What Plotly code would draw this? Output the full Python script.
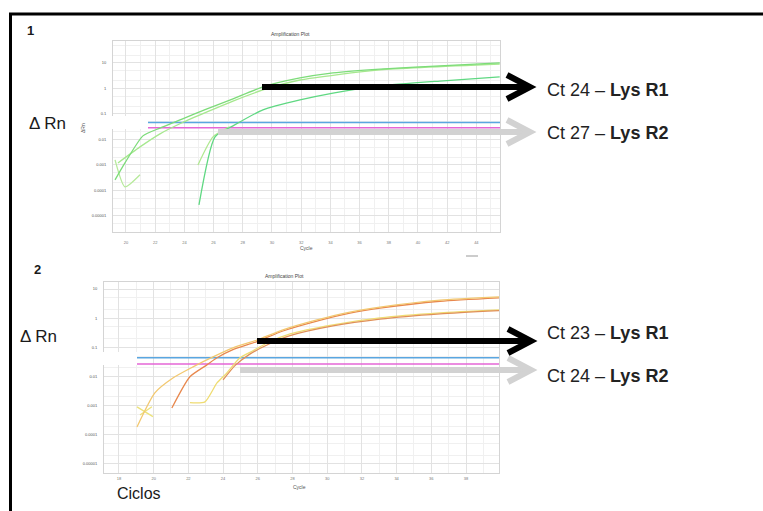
import plotly.graph_objects as go

W, H = 763, 511
FONT = "Arial, 'Liberation Sans', sans-serif"

# ---------------- data : panel 1 (green curves) ----------------
p1_cycles_tick = [20, 22, 24, 26, 28, 30, 32, 34, 36, 38, 40, 42, 44]
p1_A1_cycle = [19.25, 19.93, 21.16, 22.33, 23.84, 25.55, 27.33, 29.38, 31.92, 34.18, 37.40, 41.5, 45.6]
p1_A1_drn = [0.00026, 0.0012, 0.0138, 0.028, 0.063, 0.158, 0.39, 1.15, 2.57, 4.07, 5.75, 7.6, 10.0]
p1_A2_cycle = [19.45, 20.96, 22.33, 23.84, 25.55, 27.33, 29.38, 31.92, 37.4, 45.6]
p1_A2_drn = [0.0012, 0.0051, 0.0166, 0.045, 0.12, 0.32, 0.87, 2.14, 5.37, 9.1]
p1_B1_cycle = [25.0, 26.1, 27.33, 29.38, 31.92, 34.18, 37.4, 41.5, 45.6]
p1_B1_drn = [0.000027, 0.0126, 0.034, 0.145, 0.355, 0.66, 1.26, 1.95, 2.82]
p1_B2_cycle = [24.93, 25.96, 27.1]
p1_B2_drn = [0.001, 0.0126, 0.031]
p1_N1_cycle = [19.25, 19.93, 20.96]
p1_N1_drn = [0.00158, 0.000138, 0.00041]
p1_thr_cycle = [21.5, 45.62]
p1_thr_blue = 0.0457
p1_thr_pink = 0.0288

# ---------------- data : panel 2 (orange / yellow curves) ----------------
p2_cycles_tick = [18, 20, 22, 24, 26, 28, 30, 32, 34, 36, 38]
p2_R1a_cycle = [19.04, 20.07, 21.11, 22.27, 23.42, 24.57, 25.95, 27.45, 29.41, 31.31, 33.04, 36.5, 39.9]
p2_R1a_drn = [0.000186, 0.00275, 0.0089, 0.0214, 0.0468, 0.0955, 0.178, 0.398, 0.87, 1.62, 2.40, 4.17, 5.37]
p2_R1b_cycle = [21.05, 22.09, 23.07, 23.65, 24.57, 25.95, 27.45, 29.41, 31.31, 33.04, 36.5, 39.9]
p2_R1b_drn = [0.00083, 0.0098, 0.025, 0.0437, 0.083, 0.158, 0.363, 0.79, 1.48, 2.19, 3.8, 5.0]
p2_R2a_cycle = [22.09, 22.96, 23.65, 24.22, 24.97, 25.72, 26.53, 27.86, 30.33, 33.04, 36.5, 39.9]
p2_R2a_drn = [0.00126, 0.00135, 0.006, 0.0132, 0.0437, 0.076, 0.141, 0.288, 0.59, 1.02, 1.51, 1.91]
p2_R2b_cycle = [24.0, 24.7, 25.5, 26.53, 27.86, 30.33, 33.04, 36.5, 39.9]
p2_R2b_drn = [0.0076, 0.024, 0.056, 0.12, 0.25, 0.54, 0.93, 1.41, 1.82]
p2_X1_cycle = [19.04, 19.96]
p2_X1_drn = [0.00091, 0.00042]
p2_X2_cycle = [19.21, 19.9]
p2_X2_drn = [0.00048, 0.00091]
p2_thr_cycle = [19.04, 39.9]
p2_thr_blue = 0.0437
p2_thr_pink = 0.0269

y_tickvals = [1e-5, 1e-4, 1e-3, 1e-2, 1e-1, 1, 10]
y_ticktext = ["0.00001", "0.0001", "0.001", "0.01", "0.1", "1", "10"]
y_minor = [m * 10.0 ** e for e in range(-6, 2) for m in (2, 5)]

labels_ct = [("Ct 24 – ", "Lys R1"), ("Ct 27 – ", "Lys R2"),
             ("Ct 23 – ", "Lys R1"), ("Ct 24 – ", "Lys R2")]


def X(p):
    return p / W


def Y(p):
    return 1 - p / H


fig = go.Figure()


def line(xs, ys, color, ax, width=1.3):
    fig.add_trace(go.Scatter(x=xs, y=ys, mode="lines", xaxis=ax[0], yaxis=ax[1],
                             line=dict(color=color, width=width, shape="spline", smoothing=0.6),
                             hoverinfo="skip", showlegend=False))


a1 = ("x", "y")
line(p1_thr_cycle, [p1_thr_blue] * 2, "#5aa6e0", a1, 1.5)
line(p1_thr_cycle, [p1_thr_pink] * 2, "#e466d6", a1, 1.5)
line(p1_N1_cycle, p1_N1_drn, "#b6ea9a", a1)
line(p1_A2_cycle, p1_A2_drn, "#a6e88e", a1)
line(p1_A1_cycle, p1_A1_drn, "#7ddc7a", a1)
line(p1_B2_cycle, p1_B2_drn, "#b0e890", a1)
line(p1_B1_cycle, p1_B1_drn, "#5fd882", a1)

a2 = ("x2", "y2")
line(p2_thr_cycle, [p2_thr_blue] * 2, "#5aa6e0", a2, 1.5)
line(p2_thr_cycle, [p2_thr_pink] * 2, "#e466d6", a2, 1.5)
line(p2_X1_cycle, p2_X1_drn, "#ece27a", a2)
line(p2_X2_cycle, p2_X2_drn, "#ece27a", a2)
line(p2_R2a_cycle, p2_R2a_drn, "#efdc72", a2)
line(p2_R2b_cycle, p2_R2b_drn, "#e09058", a2)
line(p2_R1b_cycle, p2_R1b_drn, "#e8884e", a2)
line(p2_R1a_cycle, p2_R1a_drn, "#f2c870", a2)

common_x = dict(showgrid=True, gridcolor="#e2e2e2", gridwidth=1, zeroline=False,
                showline=True, mirror=True, linecolor="#d4d4d4", linewidth=1,
                tickfont=dict(size=4, color="#777", family=FONT), ticks="")
common_y = dict(type="log", showgrid=True, gridcolor="#e2e2e2", zeroline=False,
                showline=True, mirror=True, linecolor="#d4d4d4", linewidth=1,
                tickvals=y_tickvals, ticktext=y_ticktext,
                tickfont=dict(size=4, color="#555", family=FONT), ticks="",
                ticklabelstandoff=5,
                minor=dict(tickvals=y_minor, showgrid=True, gridcolor="#f0f0f0", ticks=""))

fig.update_layout(
    width=W, height=H, margin=dict(l=0, r=0, t=0, b=0),
    paper_bgcolor="white", plot_bgcolor="white", showlegend=False,
    xaxis=dict(common_x, domain=[X(113), X(500)], range=[19.11, 45.62], anchor="y",
               ticklabelstandoff=6,
               tickvals=p1_cycles_tick, ticktext=[str(c) for c in p1_cycles_tick],
               minor=dict(tickvals=[c + 1 for c in p1_cycles_tick], showgrid=True,
                          gridcolor="#f0f0f0", ticks="")),
    yaxis=dict(common_y, domain=[Y(232), Y(41)], range=[-5.63, 1.86], anchor="x"),
    xaxis2=dict(common_x, domain=[X(104), X(499)], range=[17.14, 39.9], anchor="y2",
                ticklabelstandoff=1,
                tickvals=p2_cycles_tick, ticktext=[str(c) for c in p2_cycles_tick],
                minor=dict(tickvals=[c + 1 for c in p2_cycles_tick], showgrid=True,
                           gridcolor="#f0f0f0", ticks="")),
    yaxis2=dict(common_y, domain=[Y(473), Y(282)], range=[-5.31, 1.24], anchor="x2"),
)

shapes = []
# outer frame
shapes.append(dict(type="rect", xref="paper", yref="paper", x0=X(10.5), x1=X(800),
                   y0=Y(560), y1=Y(14), line=dict(color="black", width=3), fillcolor="rgba(0,0,0,0)"))
# white label bands that break the plot
shapes.append(dict(type="rect", xref="paper", yref="paper", x0=X(100), x1=X(148),
                   y0=Y(129), y1=Y(116), line=dict(width=0), fillcolor="white", layer="above"))
shapes.append(dict(type="rect", xref="paper", yref="paper", x0=X(92), x1=X(137),
                   y0=Y(365), y1=Y(352), line=dict(width=0), fillcolor="white", layer="above"))


def arrow(x0, x1, y, color):
    shapes.append(dict(type="line", xref="paper", yref="paper", x0=X(x0), x1=X(x1 - 6),
                       y0=Y(y), y1=Y(y), line=dict(color=color, width=6)))
    path = "M %f,%f L %f,%f L %f,%f" % (X(x1 - 23), Y(y - 12), X(x1), Y(y), X(x1 - 23), Y(y + 12))
    shapes.append(dict(type="path", xref="paper", yref="paper", path=path,
                       line=dict(color=color, width=6)))


arrow(218, 530, 132, "#d2d2d2")
arrow(262, 530, 87, "black")
arrow(240, 531, 370, "#d2d2d2")
arrow(257, 531, 341, "black")
shapes.append(dict(type="line", xref="paper", yref="paper", x0=X(466), x1=X(478),
                   y0=Y(256), y1=Y(256), line=dict(color="#999", width=1)))
fig.update_layout(shapes=shapes)

ann = []


def txt(text, x, y, size, xanchor="center", color="#1a1a1a", angle=0):
    ann.append(dict(text=text, x=X(x), y=Y(y), xref="paper", yref="paper", showarrow=False,
                    xanchor=xanchor, yanchor="middle", textangle=angle,
                    font=dict(size=size, color=color, family=FONT)))


txt("<b>1</b>", 31, 30, 13)
txt("<b>2</b>", 37, 269, 13)
txt("Δ Rn", 48, 123, 17)
txt("Δ Rn", 38, 336, 17)
txt("Ciclos", 139, 493, 16)
txt("Amplification Plot", 290, 34, 5, color="#444")
txt("Amplification Plot", 284, 276, 5, color="#444")
txt("Cycle", 306, 248, 5, color="#555")
txt("Cycle", 299, 487, 5, color="#555")
txt("ΔRn", 83, 128, 5, color="#555", angle=-90)
for (a, b), yy in zip(labels_ct, [90, 133, 333, 376]):
    txt(a + "<b>" + b + "</b>", 545, yy, 18, xanchor="left", color="#222")
fig.update_layout(annotations=ann)

fig.write_html("out.html", config={"displayModeBar": False},
               post_script="document.body.style.margin='0px';")
